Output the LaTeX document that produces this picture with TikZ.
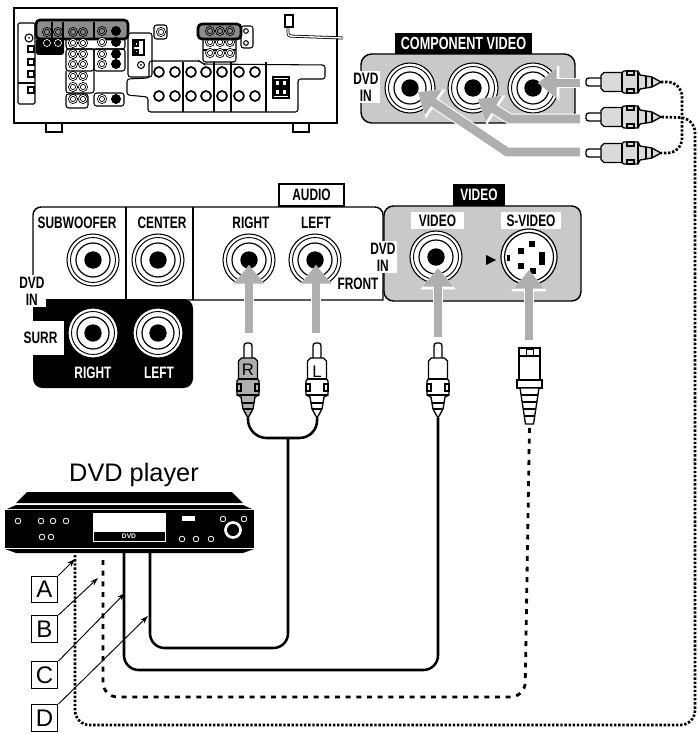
\documentclass[tikz,border=0pt]{standalone}
\usepackage{fontspec}
\setmainfont{Liberation Sans}
\newfontfamily\panelfont[FakeStretch=0.72,UprightFont=* Bold]{Liberation Sans}
\usetikzlibrary{arrows.meta}
\usetikzlibrary{calc}
\definecolor{panelgray}{HTML}{C9C9C9}
\definecolor{arrowgray}{HTML}{AFAFAF}
\definecolor{groupgray}{HTML}{8C8C8C}
\definecolor{bodygray}{HTML}{DADADA}
\tikzset{
	tag/.style={font=\panelfont\fontsize{12.4}{12.75}\selectfont,inner sep=0pt,align=center},
	whitetag/.style={tag,fill=white,inner sep=1pt},
	blacktag/.style={tag,fill=black,text=white},
	letterbox/.style={draw,fill=white,line width=0.8pt,inner sep=0pt,minimum size=20pt,font=\fontsize{18}{18}\selectfont},
	plugletter/.style={inner sep=0pt,font=\fontsize{12.5}{12.5}\selectfont},
	feed/.style={draw=arrowgray,line width=6.6pt,-{Triangle[length=14pt,width=22pt]},preaction={draw=white,line width=8.2pt,-{Triangle[length=16pt,width=25.5pt]}}},
	cable/.style={line width=1.9pt,rounded corners=11pt},
	dashcable/.style={line width=2.1pt,rounded corners=11pt,dash pattern=on 3.7pt off 4.3pt},
	dotcable/.style={line width=2pt,rounded corners=11pt,dash pattern=on 1.8pt off 1.3pt},
	pointer/.style={line width=0.7pt,-{Stealth[length=6pt,width=4pt]}},
	unitline/.style={line width=0.8pt},
	pics/jack/.style={code={
		\draw[fill=white,line width=0.8pt] (0,0) circle (#1);
		\draw[line width=0.7pt] (0,0) circle ({#1-3.5});
		\draw[line width=0.9pt] (0,0) circle ({#1-9});
		\fill (0,0) circle (8.7);
	}},
	pics/minijack/.style={code={
		\draw[fill=#1,line width=0.5pt] (0,0) circle (4.6);
		\draw[line width=0.5pt] (0,0) circle (2.6);
	}},
	pics/rca/.style={code={
		\draw[fill=white,line width=1pt,rounded corners=2pt] (-4,16) -- (-4,0) -- (4,0) -- (4,16);
		\draw[fill=#1,line width=1pt] (-6.5,15) -- (6.5,15) -- (9.5,18) -- (9.5,36) -- (11,38) -- (11,52) -- (7,54) -- (5,66) -- (0,75) -- (-5,66) -- (-7,54) -- (-11,52) -- (-11,38) -- (-9.5,36) -- (-9.5,18) -- cycle;
		\draw[line width=0.8pt] (-9.5,36) -- (9.5,36) (-11,52) -- (11,52) (-6,60) -- (6,60) (-5,66) -- (5,66);
		\draw[line width=0.8pt] (-7,41) rectangle (-11,48) (7,41) rectangle (11,48);
		\coordinate (tail) at (0,75);
	}},
	pics/svideoplug/.style={code={
		\draw[fill=white,line width=1.3pt] (-10.5,0) rectangle (10.5,32);
		\draw[fill=white,line width=0.7pt] (-3.5,1) rectangle (3.5,7);
		\draw[line width=0.8pt] (-10.5,8) -- (10.5,8);
		\draw[fill=white,line width=1pt] (-12.5,32) rectangle (12.5,40);
		\draw[fill=white,line width=1pt] (-9.5,40) -- (9.5,40) -- (4,76) -- (-4,76) -- cycle;
		\draw[line width=0.8pt] (-8.5,47) -- (8.5,47) (-7.5,54) -- (7.5,54) (-6.5,61) -- (6.5,61) (-5.5,68) -- (5.5,68);
		\coordinate (tail) at (0,78);
	}},
}
\begin{document}
\begin{tikzpicture}[x=0.75pt,y=-0.75pt,>/.tip={Latex}]
	\useasboundingbox (0,0) rectangle (698,734);

	% receiver rear
	\draw[unitline,fill=white] (46,123) rectangle (62,132);
	\draw[unitline,fill=white] (293,123) rectangle (309,132);
	\draw[unitline,fill=white] (14,8) rectangle (337,123);
	\draw[unitline,rounded corners=1pt] (18,23) rectangle (35,104);
	\draw[unitline] (18,83) -- (35,83);
	\draw[unitline] (29,38) circle (4);
	\fill (29,38) circle (1);
	\foreach \y in {49,62,74,90} \draw[unitline,fill=white] (28,\y-3) rectangle (34,\y+3);
	\draw[unitline,rounded corners=2pt] (66,38) rectangle (125,49);
	\draw[unitline,rounded corners=2pt] (66,49) rectangle (94,71);
	\draw[unitline,rounded corners=2pt] (94,49) rectangle (125,71);
	\draw[unitline,rounded corners=2pt] (66,71) -- (66,93) -- (94,93) -- (94,71);
	\draw[unitline,rounded corners=2pt] (66,94) rectangle (88,108);
	\draw[unitline,rounded corners=2pt] (94,93) rectangle (124,106);
	\draw[unitline,rounded corners=2pt] (128,33) rectangle (152,77);
	\draw[unitline,fill=white] (133,40) rectangle (144,55);
	\draw[unitline,fill=white] (135,42) rectangle (138,46) (135,50) rectangle (138,53);
	\draw[unitline] (141,65) circle (3.5);
	\fill (141,65) circle (1);
	\draw[unitline,rounded corners=2pt] (154,25) rectangle (167,39);
	\pic at (161,32) {minijack=white};
	\draw[line width=2pt,rounded corners=3pt,fill=groupgray] (36,20) rectangle (128,39);
	\draw[line width=0.8pt] (52,22) -- (52,38) (63,22) -- (63,38) (94,22) -- (94,38);
	\fill[rounded corners=2pt] (36,38) rectangle (64,55);
	\foreach \x/\y in {47/32,58/32,73/32,83/32,102/31} \pic at (\x,\y) {minijack=groupgray};
	\pic at (116,31) {minijack=black};
	\foreach \x in {47,58} \draw[white,line width=0.5pt] (\x,43) circle (3.5);
	\foreach \x/\y in {73/43,83/43,102/42,73/54,83/54,73/64,83/64,102/54,102/64,73/76,83/76,73/87,83/87,73/99,83/99,102/99} \pic at (\x,\y) {minijack=white};
	\foreach \x/\y in {116/42,116/54,116/64,116/99} \pic at (\x,\y) {minijack=black};
	\draw[unitline,rounded corners=2pt] (203,38) rectangle (236,62);
	\draw[unitline] (203,50) -- (236,50);
	\foreach \x in {210,220,230} {
		\pic at (\x,42) {minijack=white};
		\pic at (\x,53) {minijack=white};
	}
	\draw[line width=2pt,rounded corners=3pt,fill=groupgray] (198,24) rectangle (241,39);
	\foreach \x in {210,220,230} \pic at (\x,31) {minijack=groupgray};
	\draw[unitline,rounded corners=2pt] (241,26) rectangle (253,48);
	\draw[unitline] (246,31) circle (2.3) (246,43) circle (2.3);
	\draw[unitline,rounded corners=2pt] (149,61) -- (149,78) -- (127,79) -- (127,95) -- (148,97) -- (148,112) -- (298,112) -- (298,79) -- (325,79) -- (325,65) -- (203,64) -- (200,61) -- cycle;
	\foreach \x in {183,214,231,266} \draw[unitline] (\x,62) -- (\x,112);
	\foreach \x in {159,175,191,206,222,239,255} {
		\draw[line width=1.3pt] (\x,72) circle (5);
		\draw[line width=1.3pt] (\x,96) circle (5);
	}
	\draw[unitline,fill=white] (273,77) rectangle (289,98);
	\draw[unitline,fill=white] (275,80) rectangle (280,86) (282,80) rectangle (287,86) (275,89) rectangle (280,95) (282,89) rectangle (287,95);
	\draw[unitline,fill=white] (273,87) -- (289,87);
	\draw[line width=2.2pt,rounded corners=2pt] (288,27) -- (288,36) -- (343,38);
	\draw[white,line width=1pt,rounded corners=2pt] (288,27) -- (288,36) -- (343,38);
	\draw[unitline,fill=white] (285,15) rectangle (293,27);

	% component video panel
	\draw[line width=1.1pt,fill=panelgray,rounded corners=8pt] (361,54) rectangle (575,123);
	\node (componenttag) [blacktag,font=\panelfont\fontsize{13.2}{13.2}\selectfont,minimum width=102.75pt,minimum height=15.75pt] at (463.5,43.5) {COMPONENT VIDEO};
	\node (componentdvd) [whitetag,anchor=east] at (380,87) {DVD\\IN};
	\pic at (410,88) {jack=25};
	\pic at (473,88) {jack=25};
	\pic at (533,88) {jack=25};

	% plugs on the component side
	\pic (plugy) [rotate=90] at (586,82) {rca=bodygray};
	\pic (plugb) [rotate=90] at (586,117) {rca=bodygray};
	\pic (plugp) [rotate=90] at (586,153) {rca=bodygray};
	\coordinate (feedy) at (580,83);
	\coordinate (feedb) at (580,119);
	\coordinate (feedbcorner) at (510,119);
	\coordinate (feedp) at (580,152);
	\coordinate (feedpcorner) at (507,152);
	\coordinate (tipy) at (538,83);
	\coordinate (tipb) at (478,99);
	\coordinate (tipp) at (418,92);
	\draw[feed] (feedy) -- (tipy);
	\draw[feed] (feedb) -- (feedbcorner) -- (tipb);
	\draw[feed] (feedp) -- (feedpcorner) -- (tipp);

	% audio panels
	\draw[line width=1.1pt,fill=white] (33,300) [rounded corners=6pt] -- (33,207) -- (383,207) [sharp corners] -- (383,300) -- cycle;
	\draw[line width=1.1pt] (126,207) -- (126,300) (193,207) -- (193,300);
	\fill[rounded corners=7pt] (33,299) -- (193,299) -- (193,388) -- (33,388) [sharp corners] -- cycle;
	\node (audiotag) [tag,draw,fill=white,line width=0.8pt,minimum width=48.75pt,minimum height=16.5pt] at (311.5,195) {AUDIO};
	\node (subwoofer) [tag] at (77,223) {SUBWOOFER};
	\node (center) [tag] at (162,223) {CENTER};
	\node (frontright) [tag] at (251,223) {RIGHT};
	\node (frontleft) [tag] at (316,223) {LEFT};
	\node (front) [tag] at (358,284) {FRONT};
	\node (surr) [whitetag,minimum width=35.25pt,minimum height=25.5pt] at (40.5,338) {SURR};
	\node (leftdvd) [whitetag,anchor=east] at (46,291) {DVD\\IN};
	\node (surrright) [tag,text=white] at (93,373) {RIGHT};
	\node (surrleft) [tag,text=white] at (159,373) {LEFT};
	\pic at (93,260) {jack=26};
	\pic at (158,260) {jack=26};
	\pic at (249,260) {jack=26};
	\pic at (315,260) {jack=26};
	\pic at (93,333) {jack=25};
	\pic at (158,333) {jack=25};

	% video panel
	\draw[line width=1.1pt,fill=panelgray,rounded corners=7pt] (384,206) rectangle (581,301);
	\node (videohead) [blacktag,minimum width=39pt,minimum height=16.5pt] at (479,195) {VIDEO};
	\node (videotag) [whitetag,minimum width=39.75pt,minimum height=12.75pt] at (437.5,220.5) {VIDEO};
	\node (svideotag) [whitetag,minimum width=45pt,minimum height=12.75pt] at (531,220.5) {S-VIDEO};
	\node (videodvd) [whitetag,anchor=east] at (397,257) {DVD\\IN};
	\pic at (436,257) {jack=26};
	\fill (486,255) -- (496,260) -- (486,265) -- cycle;
	\draw[line width=0.9pt,fill=white] (529,257) circle (28);
	\draw[line width=0.9pt] (529,257) circle (24.5);
	\fill (518,248) rectangle (524,254);
	\fill (529,241) rectangle (535,247);
	\fill (539,252) rectangle (545,265);
	\fill (518,263) rectangle (524,269);
	\fill (530,268) rectangle (536,274);
	\fill (507,255) rectangle (510,261);

	% arrows into the jacks
	\coordinate (feedr) at (249,333);
	\coordinate (tipr) at (249,265);
	\coordinate (feedl) at (316,333);
	\coordinate (tipl) at (316,265);
	\coordinate (feedv) at (438,337);
	\coordinate (tipv) at (438,268);
	\coordinate (feeds) at (529,340);
	\coordinate (tips) at (529,270);
	\draw[feed] (feedr) -- (tipr);
	\draw[feed] (feedl) -- (tipl);
	\draw[feed] (feedv) -- (tipv);
	\draw[feed] (feeds) -- (tips);

	% plugs under the panels
	\pic (plugr) at (248,343) {rca=arrowgray};
	\pic (plugl) at (317,343) {rca=white};
	\pic (plugv) at (438,343) {rca=white};
	\pic (plugs) at (529.5,348) {svideoplug};
	\node (letterr) [plugletter] at (248,370) {R};
	\node (letterl) [plugletter] at (317,372) {L};

	% cables
	\coordinate (dvda) at (75,555);
	\coordinate (dvdb) at (103,560);
	\coordinate (dvdc) at (124,553);
	\coordinate (dvdd) at (150,553);
	\coordinate (bendac) at (75,725);
	\coordinate (bendad) at (695,725);
	\coordinate (bendae) at (695,118);
	\coordinate (bendbc) at (103,697);
	\coordinate (bendbd) at (525,697);
	\coordinate (bendcc) at (124,670);
	\coordinate (bendcd) at (438,670);
	\coordinate (benddc) at (150,648);
	\coordinate (benddd) at (288,648);
	\coordinate (forkl) at (248,438);
	\coordinate (forkr) at (318,438);
	\coordinate (forkm) at (288,438);
	\coordinate (linky) at (682,82);
	\coordinate (linkp) at (682,153);
	\draw[cable,rounded corners=14pt] (plugrtail) -- (forkl) -- (forkr) -- (plugltail);
	\draw[cable] (dvdd) -- (benddc) -- (benddd) -- (forkm);
	\draw[cable] (dvdc) -- (bendcc) -- (bendcd) -- (plugvtail);
	\draw[dashcable] (dvdb) -- (bendbc) -- (bendbd) -- (plugstail);
	\draw[dotcable] (dvda) -- (bendac) -- (bendad) -- (bendae) -- (plugbtail);
	\draw[dotcable] (plugytail) -- (linky) -- (linkp) -- (plugptail);

	% DVD player
	\node (player) [inner sep=0pt,font=\fontsize{19}{19}\selectfont] at (134,475) {DVD player};
	\fill (16,503) -- (27,492) -- (232,492) -- (243,503) -- cycle;
	\fill (7,509) -- (16,505) -- (243,505) -- (252,509) -- cycle;
	\fill (5,510) rectangle (254,548);
	\fill (5,549) -- (254,549) -- (243,553) -- (16,553) -- cycle;
	\fill[white] (93,513) rectangle (166,542);
	\fill (94,532) rectangle (165,541);
	\node (dvdbadge) [inner sep=0pt,text=white,font=\bfseries\fontsize{5}{5}\selectfont] at (129,536.5) {DVD};
	\fill[white] (182,516) rectangle (195,521);
	\foreach \x/\y in {18/521,41/521,53/521,66/521,42/537,51/537,182/539,196/539,211/539,223/519,244/519}
		\draw[white,line width=0.6pt] (\x,\y) circle (2.8);
	\draw[white,line width=2pt] (233,530) circle (7.5);

	% letter keys
	\node (keya) [letterbox] at (44.5,589.5) {A};
	\node (keyb) [letterbox] at (44.5,629) {B};
	\node (keyc) [letterbox] at (44.5,675) {C};
	\node (keyd) [letterbox] at (44.5,718) {D};
	\coordinate (pointa) at (75,559);
	\coordinate (pointb) at (98,578);
	\coordinate (pointc) at (125,593);
	\coordinate (pointd) at (148,616);
	\draw[pointer] (keya.north east) -- (pointa);
	\draw[pointer] (keyb.north east) -- (pointb);
	\draw[pointer] (keyc.north east) -- (pointc);
	\draw[pointer] (keyd.north east) -- (pointd);
\end{tikzpicture}
\end{document}
